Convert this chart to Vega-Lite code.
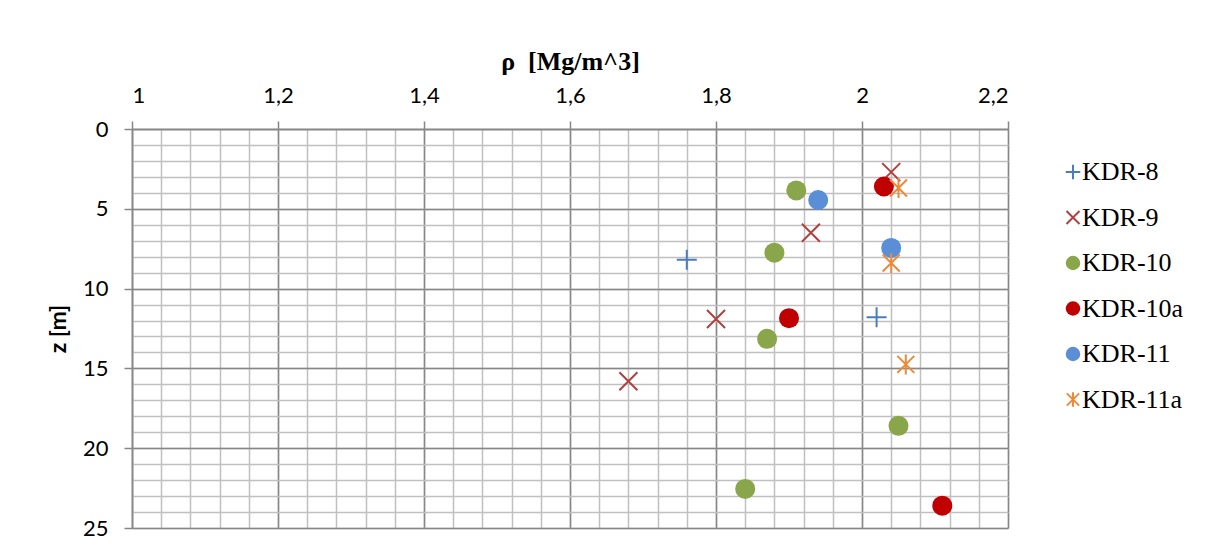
{
  "$schema": "https://vega.github.io/schema/vega-lite/v6.json",
  "width": 876,
  "height": 399,
  "autosize": {"type": "none"},
  "padding": {"left": 132, "top": 129, "right": 214, "bottom": 23},
  "background": "white",
  "config": {"view": {"stroke": null}},
  "data": {
    "values": [
      {"series": "KDR-8", "rho": 1.76, "z": 8.2},
      {"series": "KDR-8", "rho": 2.02, "z": 11.8},
      {"series": "KDR-9", "rho": 2.04, "z": 2.7},
      {"series": "KDR-9", "rho": 1.93, "z": 6.5},
      {"series": "KDR-9", "rho": 1.80, "z": 11.9},
      {"series": "KDR-9", "rho": 1.68, "z": 15.8},
      {"series": "KDR-10", "rho": 1.91, "z": 3.85},
      {"series": "KDR-10", "rho": 1.88, "z": 7.75},
      {"series": "KDR-10", "rho": 1.87, "z": 13.15},
      {"series": "KDR-10", "rho": 2.05, "z": 18.6},
      {"series": "KDR-10", "rho": 1.84, "z": 22.55},
      {"series": "KDR-10a", "rho": 2.03, "z": 3.6},
      {"series": "KDR-10a", "rho": 1.90, "z": 11.85},
      {"series": "KDR-10a", "rho": 2.11, "z": 23.6},
      {"series": "KDR-11", "rho": 1.94, "z": 4.45},
      {"series": "KDR-11", "rho": 2.04, "z": 7.45},
      {"series": "KDR-11a", "rho": 2.05, "z": 3.7},
      {"series": "KDR-11a", "rho": 2.04, "z": 8.4},
      {"series": "KDR-11a", "rho": 2.06, "z": 14.75}
    ]
  },
  "layer": [
    {
      "mark": {"type": "point", "opacity": 0},
      "encoding": {
        "x": {
          "field": "rho", "type": "quantitative",
          "scale": {"domain": [1, 2.2], "nice": false, "zero": false},
          "axis": {
            "orient": "bottom", "title": null, "labels": false, "ticks": false, "domain": false,
            "grid": true, "gridColor": "#c0c0c0", "gridWidth": 1.5,
            "values": [1,1.04,1.08,1.12,1.16,1.2,1.24,1.28,1.32,1.36,1.4,1.44,1.48,1.52,1.56,1.6,1.64,1.68,1.72,1.76,1.8,1.84,1.88,1.92,1.96,2,2.04,2.08,2.12,2.16,2.2]
          }
        },
        "y": {
          "field": "z", "type": "quantitative",
          "scale": {"domain": [0, 25], "nice": false, "zero": false, "reverse": true},
          "axis": {
            "orient": "right", "title": null, "labels": false, "ticks": false, "domain": false,
            "grid": true, "gridColor": "#c0c0c0", "gridWidth": 1.5,
            "values": [0,1,2,3,4,5,6,7,8,9,10,11,12,13,14,15,16,17,18,19,20,21,22,23,24,25]
          }
        }
      }
    },
    {
      "mark": {"type": "point", "filled": true, "opacity": 1, "size": 400, "strokeWidth": 2},
      "encoding": {
        "x": {
          "field": "rho", "type": "quantitative",
          "scale": {"domain": [1, 2.2], "nice": false, "zero": false},
          "axis": {
            "orient": "top",
            "title": "ρ\u00a0\u00a0[Mg/m^3]",
            "titleFont": "Liberation Serif", "titleFontSize": 26, "titleFontWeight": "bold", "titleColor": "black",
            "titlePadding": 10,
            "values": [1, 1.2, 1.4, 1.6, 1.8, 2, 2.2],
            "labelExpr": "replace(format(datum.value, '.1~f'), '.', ',')",
            "labelFont": "Lato", "labelFontSize": 22, "labelColor": "black", "labelPadding": 14,
            "grid": true, "gridColor": "#878787", "gridWidth": 1.5,
            "domainColor": "#878787", "domainWidth": 1.5,
            "tickColor": "#878787", "tickWidth": 1.5, "tickSize": 8
          }
        },
        "y": {
          "field": "z", "type": "quantitative",
          "scale": {"domain": [0, 25], "nice": false, "zero": false, "reverse": true},
          "axis": {
            "orient": "left",
            "title": "z [m]",
            "titleFont": "Lato", "titleFontSize": 23, "titleFontWeight": "bold", "titleColor": "black",
            "titlePadding": 12,
            "values": [0, 5, 10, 15, 20, 25],
            "labelFont": "Lato", "labelFontSize": 22, "labelColor": "black", "labelPadding": 16,
            "grid": true, "gridColor": "#878787", "gridWidth": 1.5,
            "domainColor": "#878787", "domainWidth": 1.5,
            "tickColor": "#878787", "tickWidth": 1.5, "tickSize": 8
          }
        },
        "shape": {
          "field": "series", "type": "nominal",
          "scale": {
            "domain": ["KDR-8", "KDR-9", "KDR-10", "KDR-10a", "KDR-11", "KDR-11a"],
            "range": ["M-1,0H1M0,-1V1", "M-0.9,-0.9L0.9,0.9M-0.9,0.9L0.9,-0.9", "circle", "circle", "circle", "M0,-1V1M-0.85,-0.85L0.85,0.85M-0.85,0.85L0.85,-0.85"]
          },
          "legend": {
            "title": null, "orient": "none", "legendX": 928, "legendY": 30,
            "padding": 0, "rowPadding": 19.5, "symbolSize": 210, "symbolStrokeWidth": 2,
            "labelFont": "Liberation Serif", "labelFontSize": 26, "labelColor": "black", "labelOffset": -4
          }
        },
        "fill": {
          "field": "series", "type": "nominal",
          "scale": {
            "domain": ["KDR-8", "KDR-9", "KDR-10", "KDR-10a", "KDR-11", "KDR-11a"],
            "range": ["#4a7ebb", "#b0413e", "#8aa64a", "#c00000", "#5a8fd8", "#ec8a3a"]
          },
          "legend": {
            "title": null, "orient": "none", "legendX": 928, "legendY": 30,
            "padding": 0, "rowPadding": 19.5, "symbolSize": 210, "symbolStrokeWidth": 2,
            "labelFont": "Liberation Serif", "labelFontSize": 26, "labelColor": "black", "labelOffset": -4
          }
        },
        "stroke": {
          "field": "series", "type": "nominal",
          "scale": {
            "domain": ["KDR-8", "KDR-9", "KDR-10", "KDR-10a", "KDR-11", "KDR-11a"],
            "range": ["#4a7ebb", "#b0413e", "transparent", "transparent", "transparent", "#ec8a3a"]
          },
          "legend": {
            "title": null, "orient": "none", "legendX": 928, "legendY": 30,
            "padding": 0, "rowPadding": 19.5, "symbolSize": 210, "symbolStrokeWidth": 2,
            "labelFont": "Liberation Serif", "labelFontSize": 26, "labelColor": "black", "labelOffset": -4
          }
        }
      }
    }
  ],
  "resolve": {"axis": {"x": "independent", "y": "independent"}}
}
